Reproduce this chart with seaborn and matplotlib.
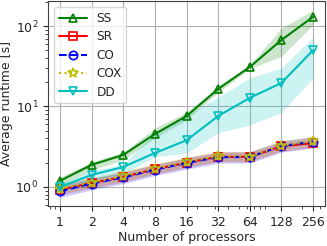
import numpy as np
import pandas as pd
import matplotlib
matplotlib.use("Agg")
import matplotlib.pyplot as plt
from matplotlib.ticker import NullFormatter, FixedLocator, FixedFormatter
import seaborn as sns

procs = [1, 2, 4, 8, 16, 32, 64, 128, 256]
tick_labels = ["1", "2", "4", "8", "16", "32", "64", "128", "256"]

ss_mean = [1.19, 1.88, 2.5, 4.55, 7.6, 16.5, 31.0, 67.0, 130.0]
ss_lo = [1.05, 1.63, 2.16, 4.06, 6.8, 15.0, 29.5, 42.0, 103.0]
ss_hi = [1.32, 2.05, 2.7, 5.4, 8.5, 18.0, 33.0, 94.0, 158.0]

sr_mean = [0.92, 1.12, 1.33, 1.66, 2.0, 2.37, 2.36, 3.2, 3.5]
sr_lo = [0.80, 0.97, 1.15, 1.44, 1.74, 2.06, 2.05, 2.78, 3.04]
sr_hi = [1.06, 1.29, 1.53, 1.91, 2.30, 2.73, 2.71, 3.68, 4.03]

co_mean = [0.88, 1.10, 1.31, 1.64, 1.98, 2.34, 2.36, 3.22, 3.65]
co_lo = [0.74, 0.92, 1.10, 1.38, 1.66, 1.97, 1.98, 2.70, 3.07]
co_hi = [1.02, 1.28, 1.52, 1.90, 2.30, 2.71, 2.74, 3.74, 4.23]

cox_mean = [0.95, 1.13, 1.35, 1.68, 2.02, 2.40, 2.38, 3.25, 3.70]
cox_lo = [0.82, 0.98, 1.17, 1.46, 1.76, 2.09, 2.07, 2.83, 3.22]
cox_hi = [1.10, 1.31, 1.57, 1.95, 2.34, 2.78, 2.76, 3.77, 4.29]

dd_mean = [1.0, 1.41, 1.77, 2.64, 3.8, 7.6, 12.8, 19.6, 50.0]
dd_lo = [0.93, 1.2, 1.45, 2.36, 2.64, 4.7, 5.9, 8.4, 22.6]
dd_hi = [1.1, 1.6, 1.9, 4.8, 7.8, 13.0, 22.6, 30.0, 73.0]

series = [
    ("SS", ss_mean, ss_lo, ss_hi, "g", "^", "-"),
    ("SR", sr_mean, sr_lo, sr_hi, "r", "s", "-"),
    ("CO", co_mean, co_lo, co_hi, "b", "o", "--"),
    ("COX", cox_mean, cox_lo, cox_hi, "y", "*", ":"),
    ("DD", dd_mean, dd_lo, dd_hi, "c", "v", "-"),
]

sns.set_style("ticks", {"axes.grid": True, "grid.color": "#b0b0b0",
                        "axes.edgecolor": "0.25", "xtick.bottom": True,
                        "ytick.left": True})
plt.rcParams["font.family"] = ["DejaVu Sans"]
plt.rcParams["font.size"] = 9

fig, ax = plt.subplots(figsize=(3.27, 2.46), dpi=100)
fig.subplots_adjust(left=0.147, right=0.994, bottom=0.163, top=0.996)

for name, m, lo, hi, c, mk, ls in series:
    df = pd.DataFrame({"p": procs, "t": m})
    sns.lineplot(data=df, x="p", y="t", ax=ax, color=c, marker=mk,
                 linestyle=ls, linewidth=1.5, markersize=6 if mk != "*" else 7,
                 markerfacecolor="none", markeredgecolor=c, markeredgewidth=1.2,
                 label=name)
    ax.fill_between(procs, lo, hi, color=c, alpha=0.2, linewidth=0)

ax.set_xscale("log")
ax.set_yscale("log")
ax.xaxis.set_major_locator(FixedLocator(procs))
ax.xaxis.set_major_formatter(FixedFormatter(tick_labels))
ax.xaxis.set_minor_formatter(NullFormatter())
ax.set_xlim(2 ** -0.38, 256 * 2 ** 0.38)
ax.set_ylim(0.58, 205)

ax.tick_params(axis="both", which="major", labelsize=9, length=3.5, width=0.8)
ax.tick_params(axis="both", which="minor", length=2, width=0.6)
ax.grid(True, which="major", color="#b0b0b0", linewidth=0.8)
ax.grid(False, which="minor")

ax.set_xlabel("Number of processors", fontsize=9, labelpad=2)
ax.set_ylabel("Average runtime [s]", fontsize=9, labelpad=2)

leg = ax.legend(loc="upper left", fontsize=8.7, frameon=True, framealpha=0.8,
                edgecolor="0.8", fancybox=True, handlelength=2.3,
                labelspacing=0.45)

fig.savefig("out.png", dpi=100)
